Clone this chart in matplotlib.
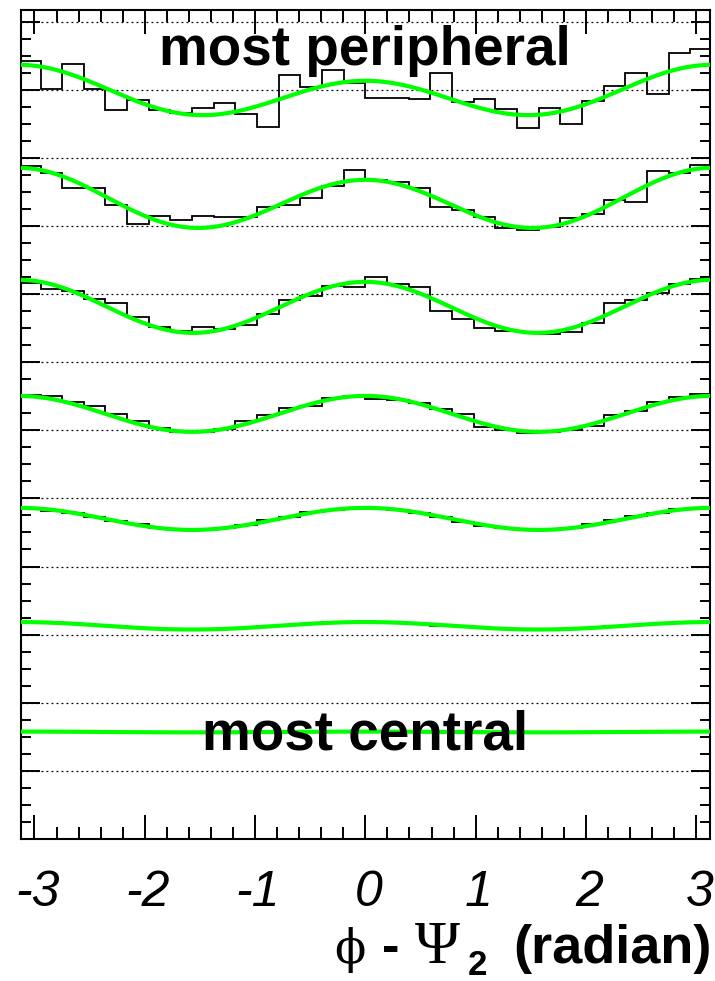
import numpy as np
import matplotlib
matplotlib.use("Agg")
import matplotlib.pyplot as plt
import matplotlib.transforms as mtransforms
from matplotlib.ticker import MultipleLocator

plt.rcParams["axes.unicode_minus"] = False

# phi - Psi_2 distributions (32 bins over [-pi, pi]), stacked vertically,
# from the most peripheral class (top) to the most central class (bottom)
hist_c1 = [11.42, 11.01, 11.37, 11.01, 10.70, 10.85, 10.70, 10.66,
           10.73, 10.80, 10.65, 10.45, 11.22, 11.04, 11.29, 11.10,
           10.88, 10.88, 10.86, 11.24, 10.82, 10.87, 10.72, 10.44,
           10.73, 10.50, 10.83, 11.06, 11.24, 10.94, 11.54, 11.60]
hist_c2 = [9.88, 9.78, 9.56, 9.56, 9.31, 9.03, 9.15, 9.08,
           9.15, 9.13, 9.13, 9.28, 9.30, 9.41, 9.58, 9.82,
           9.68, 9.64, 9.56, 9.28, 9.23, 9.13, 8.97, 8.94,
           8.99, 9.12, 9.18, 9.38, 9.35, 9.81, 9.78, 9.89]
hist_c3 = [8.16, 8.07, 8.04, 7.93, 7.87, 7.67, 7.52, 7.46,
           7.52, 7.49, 7.55, 7.70, 7.92, 7.97, 8.12, 8.10,
           8.25, 8.15, 8.10, 7.75, 7.63, 7.50, 7.46, 7.44,
           7.41, 7.44, 7.57, 7.87, 7.91, 8.01, 8.15, 8.22]
hist_c4 = [6.52, 6.50, 6.41, 6.35, 6.24, 6.14, 6.03, 5.97,
           5.98, 6.02, 6.13, 6.22, 6.32, 6.36, 6.48, 6.50,
           6.46, 6.45, 6.40, 6.31, 6.24, 6.05, 6.01, 5.96,
           5.98, 6.01, 6.07, 6.22, 6.29, 6.41, 6.49, 6.54]
hist_c5 = [4.86, 4.82, 4.79, 4.72, 4.67, 4.62, 4.56, 4.54,
           4.55, 4.57, 4.61, 4.68, 4.73, 4.80, 4.83, 4.86,
           4.85, 4.83, 4.78, 4.73, 4.66, 4.60, 4.56, 4.54,
           4.53, 4.57, 4.62, 4.68, 4.74, 4.79, 4.84, 4.86]
hist_c6 = [3.18, 3.18, 3.16, 3.14, 3.12, 3.10, 3.08, 3.08,
           3.07, 3.09, 3.10, 3.12, 3.14, 3.16, 3.18, 3.19,
           3.19, 3.17, 3.16, 3.13, 3.12, 3.10, 3.08, 3.07,
           3.08, 3.08, 3.10, 3.12, 3.14, 3.16, 3.17, 3.19]
hist_c7 = [1.58, 1.58, 1.57, 1.57, 1.57, 1.56, 1.56, 1.56,
           1.56, 1.56, 1.57, 1.57, 1.57, 1.57, 1.58, 1.58,
           1.58, 1.57, 1.57, 1.57, 1.56, 1.56, 1.56, 1.56,
           1.56, 1.57, 1.57, 1.57, 1.58, 1.57, 1.58, 1.58]
histograms = [hist_c1, hist_c2, hist_c3, hist_c4, hist_c5, hist_c6, hist_c7]

# Fourier fit per class: p0 + p1 cos(phi) + p2 cos(2 phi)
fit_p0 = [10.94, 9.369, 7.812, 6.241, 4.699, 3.130, 1.571]
fit_p1 = [-0.117, -0.088, -0.015, 0.0, 0.0, 0.0, 0.0]
fit_p2 = [0.308, 0.396, 0.382, 0.264, 0.162, 0.055, 0.006]

xtick_values = [-3, -2, -1, 0, 1, 2, 3]
label_top = "most peripheral"
label_bottom = "most central"

W, H = 715, 981
fig = plt.figure(figsize=(W / 100, H / 100), dpi=100)
ax = fig.add_axes([20.7 / W, 1 - 839 / H, (710 - 20.7) / W, (839 - 10) / H])

ax.set_xlim(-3.125, 3.125)
ax.set_ylim(0, 12.17)

# dotted reference lines
for yl in range(1, 13):
    ax.axhline(yl, color="black", lw=0.9, ls=(0, (1.5, 2.5)), zorder=1)

edges = np.linspace(-np.pi, np.pi, 33)
phi = np.linspace(-np.pi, np.pi, 400)
for h, p0, p1, p2 in zip(histograms, fit_p0, fit_p1, fit_p2):
    ax.stairs(h, edges, color="black", lw=1.3, zorder=2, baseline=None)
    ax.plot(phi, p0 + p1 * np.cos(phi) + p2 * np.cos(2 * phi),
            color="#00ff00", lw=3.0, zorder=3, solid_capstyle="butt")

ax.text(0, 11.366, label_top, ha="center", va="baseline",
        family="Liberation Sans", weight="bold", size=39.5, zorder=5)
ax.text(0, 1.307, label_bottom, ha="center", va="baseline",
        family="Liberation Sans", weight="bold", size=39.5, zorder=5)

# axis frame and ticks
for sp in ax.spines.values():
    sp.set_linewidth(1.5)
ax.set_xticks(xtick_values)
ax.set_xticklabels([str(v) for v in xtick_values])
ax.xaxis.set_minor_locator(MultipleLocator(0.2))
ax.yaxis.set_major_locator(MultipleLocator(1))
ax.yaxis.set_minor_locator(MultipleLocator(0.25))
ax.tick_params(axis="x", which="major", direction="in", top=True, bottom=True,
               length=17, width=1.4, pad=22)
ax.tick_params(axis="x", which="minor", direction="in", top=True, bottom=True,
               length=8.5, width=1.4)
ax.tick_params(axis="y", which="major", direction="in", left=True, right=True,
               length=14, width=1.4, labelleft=False)
ax.tick_params(axis="y", which="minor", direction="in", left=True, right=True,
               length=7, width=1.4)
shift = mtransforms.ScaledTranslation(0.03, 0, fig.dpi_scale_trans)
for lab in ax.get_xticklabels():
    lab.set_family("Liberation Sans")
    lab.set_style("italic")
    lab.set_size(36)
    lab.set_transform(lab.get_transform() + shift)

# axis title: phi - Psi_2 (radian), laid out piece by piece (pixel x, baseline shift)
base_y = 963
pieces = [
    ("ϕ", dict(family="DejaVu Serif", size=33, ha="left"), 334, 0),
    ("-", dict(family="Liberation Sans", weight="bold", size=38, ha="left"), 382, 0),
    ("Ψ", dict(family="Liberation Serif", size=44, ha="left"), 415, 0),
    ("2", dict(family="Liberation Sans", weight="bold", size=25, ha="left"), 468, -12),
    ("(radian)", dict(family="Liberation Sans", weight="bold", size=39, ha="right"), 712, 0),
]
for s, kw, px, dy in pieces:
    fig.text(px / W, 1 - (base_y - dy) / H, s, va="baseline", **kw)

fig.savefig("out.png", dpi=100, facecolor="white")
